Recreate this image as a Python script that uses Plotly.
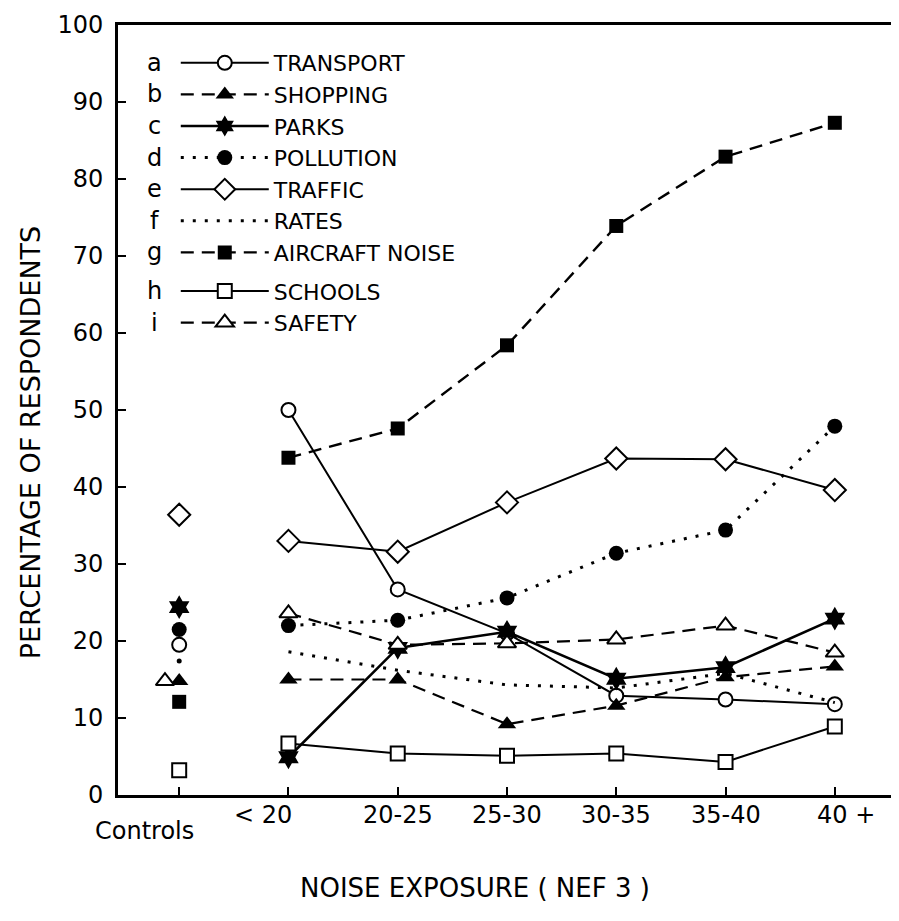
import plotly.graph_objects as go

# ---------------- data ----------------
categories = ["Controls", "< 20", "20-25", "25-30", "30-35", "35-40", "40 +"]
letters = ["a", "b", "c", "d", "e", "f", "g", "h", "i"]
names = ["TRANSPORT", "SHOPPING", "PARKS", "POLLUTION", "TRAFFIC", "RATES",
         "AIRCRAFT NOISE", "SCHOOLS", "SAFETY"]

transport = [19.5, 50.0, 26.7, 21.0, 12.9, 12.4, 11.8]
shopping = [14.8, 15.0, 15.0, 9.2, 11.6, 15.3, 16.7]
parks = [24.4, 4.9, 19.1, 21.2, 15.1, 16.6, 22.9]
pollution = [21.5, 22.0, 22.7, 25.6, 31.4, 34.4, 47.9]
traffic = [36.4, 33.0, 31.6, 38.0, 43.7, 43.6, 39.6]
rates = [17.4, 18.6, 16.2, 14.3, 13.9, 15.8, 12.0]
aircraft = [12.1, 43.8, 47.6, 58.4, 73.9, 82.9, 87.3]
schools = [3.2, 6.7, 5.4, 5.1, 5.4, 4.3, 8.9]
safety = [14.8, 23.6, 19.5, 19.7, 20.2, 22.0, 18.5]

y_ticks = list(range(0, 101, 10))

series = [transport, shopping, parks, pollution, traffic, rates, aircraft, schools, safety]

# ---------------- styles ----------------
BLACK = "#000000"
WHITE = "#ffffff"
FONT = "DejaVu Sans"
DASH = "13px,8px"
DOT = "3px,9px"
styles = [
    dict(symbol="circle", fill=WHITE, size=14, dash="solid", width=2),
    dict(symbol="triangle-up", fill=BLACK, size=16, dash=DASH, width=2.2),
    dict(symbol="hexagram", fill=BLACK, size=18, dash="solid", width=2.6),
    dict(symbol="circle", fill=BLACK, size=15, dash=DOT, width=3),
    dict(symbol="diamond", fill=WHITE, size=17, dash="solid", width=2),
    dict(symbol=None, fill=BLACK, size=5, dash=DOT, width=3),
    dict(symbol="square", fill=BLACK, size=14, dash=DASH, width=2.4),
    dict(symbol="square", fill=WHITE, size=14, dash="solid", width=2),
    dict(symbol="triangle-up", fill=WHITE, size=16, dash=DASH, width=2.2),
]
# small horizontal nudge of the control marker (safety sits left of shopping)
control_nudge = [0, 0, 0, 0, 0, 0, 0, 0, -0.13]
groups = ["g1"] * 7 + ["g2"] * 2

xs = list(range(len(categories)))

fig = go.Figure()

# control markers (no connecting lines)
for vals, st, nudge in zip(series, styles, control_nudge):
    sym = st["symbol"] if st["symbol"] else "circle"
    fig.add_trace(go.Scatter(
        x=[xs[0] + nudge], y=[vals[0]], mode="markers", showlegend=False,
        marker=dict(symbol=sym, size=st["size"], color=st["fill"],
                    line=dict(color=BLACK, width=2 if st["fill"] == WHITE else 0)),
        hoverinfo="skip"))

# exposure series: lines with markers
for vals, st, nm, grp in zip(series, styles, names, groups):
    mode = "lines+markers" if st["symbol"] else "lines"
    marker = None
    if st["symbol"]:
        marker = dict(symbol=st["symbol"], size=st["size"], color=st["fill"],
                      line=dict(color=BLACK, width=2 if st["fill"] == WHITE else 0))
    fig.add_trace(go.Scatter(
        x=xs[1:], y=vals[1:], mode=mode, name=nm, legendgroup=grp,
        line=dict(color=BLACK, width=st["width"], dash=st["dash"]),
        marker=marker))

# ---------------- layout ----------------
# the page body has a default 8px margin, so the figure is sized to fit
OFF = 8
W, H = 899 - OFF, 921 - OFF
ML, MR, MT, MB = 118 - OFF, 0, 25 - OFF, 126
plot_w = W - ML - MR
plot_h = H - MT - MB


def px_x(p):  # page pixel -> paper x
    return (p - OFF - ML) / plot_w


def px_y(p):  # page pixel -> paper y
    return 1 - (p - OFF - MT) / plot_h


LEG_FS = 22
row_h = LEG_FS * 1.3 + 3
group_gap = 7
leg_top_px = 42

annotations = []
# legend letters aligned to legend rows
for i, let in enumerate(letters):
    extra = group_gap if groups[i] == "g2" else 0
    cy = leg_top_px + 5 + row_h / 2 + row_h * i + extra
    annotations.append(dict(
        text=let, xref="paper", yref="paper", x=px_x(155), y=px_y(cy),
        showarrow=False, xanchor="center", yanchor="middle",
        font=dict(family=FONT, size=LEG_FS + 2, color=BLACK)))

# x tick labels
xshift = [-35, -25, 0, 0, 0, 0, 11]
yshift = [-36, -20, -20, -20, -20, -20, -20]
for x, lab, dx, dy in zip(xs, categories, xshift, yshift):
    annotations.append(dict(
        text=lab, x=x, y=0, xref="x", yref="paper", showarrow=False,
        xanchor="center", yanchor="middle", xshift=dx, yshift=dy,
        font=dict(family=FONT, size=24, color=BLACK)))

# axis titles
annotations.append(dict(
    text="NOISE EXPOSURE ( NEF 3 )", xref="paper", yref="paper",
    x=px_x(476), y=0, yshift=-93, showarrow=False,
    xanchor="center", yanchor="middle",
    font=dict(family=FONT, size=26, color=BLACK)))
annotations.append(dict(
    text="PERCENTAGE OF RESPONDENTS", xref="paper", yref="paper",
    x=px_x(30), y=px_y(442), textangle=-90,
    showarrow=False, xanchor="center", yanchor="middle",
    font=dict(family=FONT, size=27, color=BLACK)))

fig.update_layout(
    width=W, height=H,
    margin=dict(l=ML, r=MR, t=MT, b=MB, pad=0),
    paper_bgcolor=WHITE, plot_bgcolor=WHITE,
    font=dict(family=FONT, color=BLACK),
    showlegend=True,
    legend=dict(
        x=px_x(176), y=px_y(leg_top_px),
        xanchor="left", yanchor="top", bgcolor="rgba(0,0,0,0)", borderwidth=0,
        font=dict(family=FONT, size=LEG_FS, color=BLACK),
        itemwidth=88, tracegroupgap=group_gap, traceorder="grouped",
        itemclick=False, itemdoubleclick=False),
    annotations=annotations,
    xaxis=dict(
        range=[-0.56, 6.56], tickvals=xs, showticklabels=False,
        ticks="inside", ticklen=8, tickwidth=2, tickcolor=BLACK,
        showline=True, linecolor=BLACK, linewidth=3, mirror=True,
        showgrid=False, zeroline=False),
    yaxis=dict(
        range=[0, 100], tickvals=y_ticks,
        ticks="inside", ticklen=8, tickwidth=2, tickcolor=BLACK,
        tickfont=dict(family=FONT, size=24, color=BLACK),
        ticklabelstandoff=7,
        showline=True, linecolor=BLACK, linewidth=3, mirror=True,
        showgrid=False, zeroline=False),
)

fig.write_html("out.html")
